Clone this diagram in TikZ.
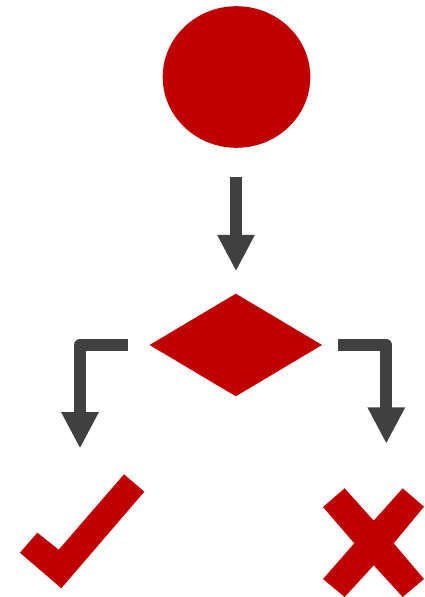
\documentclass[tikz,border=0pt]{standalone}
\usetikzlibrary{arrows.meta,shapes.geometric}
\definecolor{markred}{HTML}{C00000}
\definecolor{flowgray}{HTML}{404040}
\tikzset{
  redshape/.style={fill=markred,draw=none,inner sep=0pt,outer sep=0pt},
  flow/.style={draw=flowgray,line width=12.3pt,line join=round,line cap=butt,
    -{Triangle[length=36.5pt,width=35pt,color=flowgray]}},
}
\begin{document}
\begin{tikzpicture}[x=1pt,y=-1pt]
\useasboundingbox (0,0) rectangle (424,597);
\node[redshape,ellipse,minimum width=147.6pt,minimum height=141.6pt] (start) at (236.5,77) {};
\node[redshape,diamond,minimum width=172.5pt,minimum height=102.6pt] (choice) at (235.8,345) {};
\coordinate (a1s) at (236,177);
\coordinate (a1e) at (236,271.3);
\coordinate (a2s) at (128,345.2);
\coordinate (a2c) at (80,345.2);
\coordinate (a2e) at (80,448.5);
\coordinate (a3s) at (338,345.2);
\coordinate (a3c) at (386.3,345.2);
\coordinate (a3e) at (386.3,443.8);
\draw[flow] (a1s) -- (a1e);
\draw[flow] (a2s) -- (a2c) -- (a2e);
\draw[flow] (a3s) -- (a3c) -- (a3e);
\fill[markred] (20,552.7) -- (37.3,532.7) -- (58.7,549.7) -- (124,474.3) -- (144.3,491.7) -- (61.3,588.3) -- cycle;
\fill[markred] (344.7,488.3) -- (373.7,520.7) -- (402.7,488.3) -- (424,506.7) -- (393.7,543.3) -- (424,579) -- (402.7,597) -- (373.7,565.3) -- (344.7,597) -- (323,579) -- (354.3,543.3) -- (323,507) -- cycle;
\end{tikzpicture}
\end{document}
